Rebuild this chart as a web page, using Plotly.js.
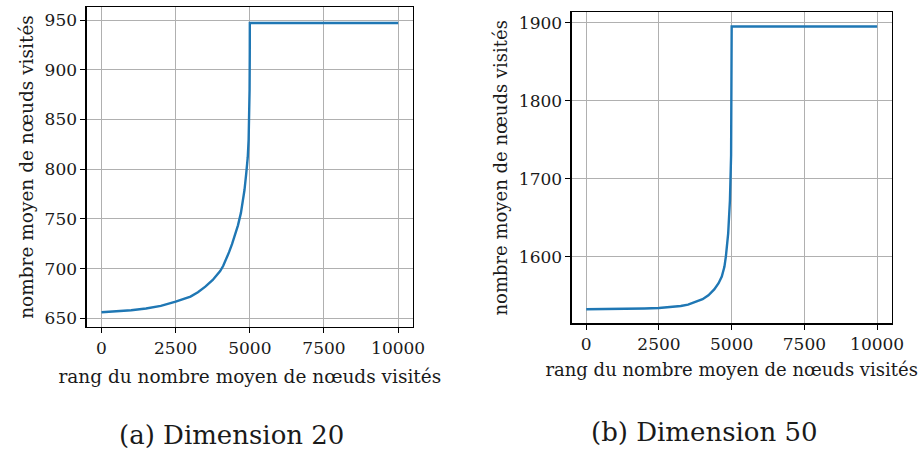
<!DOCTYPE html>
<html><head><meta charset="utf-8">
<script src="https://cdn.plot.ly/plotly-3.0.1.min.js"></script>
<style>html,body{margin:0;padding:0;background:#fff}#c{width:920px;height:452px}</style>
</head><body><div id="c"></div>
<script>
// Dimension 20
const rankA = [0, 500, 1000, 1500, 2000, 2500, 3000, 3250, 3500, 3750, 3900, 4000, 4100, 4200, 4300, 4400, 4500, 4600, 4700, 4750, 4820, 4880, 4930, 4960, 4980, 4992, 4998, 5000, 10000];
const nodesA = [656, 656.8, 658, 659.8, 662.5, 666.7, 671.8, 676.2, 681.8, 688.5, 693.5, 697.5, 702.5, 709, 716.5, 724.5, 733.5, 743.5, 756, 764, 779, 796, 812, 830, 852, 880, 915, 947, 947];
// Dimension 50
const rankB = [0, 500, 1000, 1500, 2000, 2500, 3000, 3250, 3500, 3750, 4000, 4200, 4400, 4550, 4660, 4750, 4800, 4880, 4940, 4980, 4995, 5000, 10000];
const nodesB = [1532.6, 1532.7, 1532.9, 1533.2, 1533.6, 1534.2, 1535.5, 1536.8, 1538.5, 1541.5, 1545.5, 1550.5, 1558, 1566, 1574.5, 1587, 1600, 1630, 1672, 1730, 1800, 1895, 1895];
const xTicks = [0, 2500, 5000, 7500, 10000];
const xTickText = ["0", "2500", "5000", "7500", "10000"];
const yTicksA = [650, 700, 750, 800, 850, 900, 950];
const yTicksB = [1600, 1700, 1800, 1900];
const xTitle = "rang du nombre moyen de nœuds visités";
const yTitle = "nombre moyen de nœuds visités";
const captions = ["(a) Dimension 20", "(b) Dimension 50"];

const F = "DejaVu Serif";
const TC = "#1a1a1a";
const ax = (extra) => Object.assign({
  showline: true, linecolor: "#000", linewidth: 1.2, mirror: true,
  ticks: "outside", ticklen: 5, tickcolor: "#000", tickwidth: 1,
  showgrid: true, gridcolor: "#b0b0b0", gridwidth: 1, zeroline: false,
  tickfont: {family: F, size: 17, color: TC}
}, extra);

const traces = [
  {x: rankA, y: nodesA, type: "scatter", mode: "lines", line: {color: "#1f77b4", width: 2.4}, xaxis: "x", yaxis: "y"},
  {x: rankB, y: nodesB, type: "scatter", mode: "lines", line: {color: "#1f77b4", width: 2.4}, xaxis: "x2", yaxis: "y2"}
];
const layout = {
  width: 920, height: 452, showlegend: false,
  margin: {l: 0, r: 0, t: 0, b: 0},
  paper_bgcolor: "#fff", plot_bgcolor: "#fff",
  font: {family: F, color: TC},
  xaxis: ax({domain: [0.0942, 0.4489], range: [-500, 10500], tickvals: xTicks, ticktext: xTickText, anchor: "y",
    title: {text: xTitle, font: {family: F, size: 18.5, color: TC}, standoff: 13}}),
  yaxis: ax({domain: [0.2765, 0.9845], range: [641.2, 963.1], tickvals: yTicksA, anchor: "x",
    title: {text: yTitle, font: {family: F, size: 18.5, color: TC}, standoff: 6}}),
  xaxis2: ax({domain: [0.6214, 0.9692], range: [-500, 10500], tickvals: xTicks, ticktext: xTickText, anchor: "y2",
    title: {text: xTitle, font: {family: F, size: 18, color: TC}, standoff: 10}}),
  yaxis2: ax({domain: [0.2847, 0.9728], range: [1514.6, 1913.3], tickvals: yTicksB, anchor: "x2",
    title: {text: yTitle, font: {family: F, size: 18, color: TC}, standoff: 6}}),
  annotations: [
    {text: captions[0], xref: "paper", yref: "paper", x: 231/920, y: 1 - 435/452, xanchor: "center", yanchor: "middle", showarrow: false, font: {family: F, size: 26, color: TC}},
    {text: captions[1], xref: "paper", yref: "paper", x: 704/920, y: 1 - 432/452, xanchor: "center", yanchor: "middle", showarrow: false, font: {family: F, size: 26, color: TC}}
  ]
};
Plotly.newPlot("c", traces, layout, {displayModeBar: false, staticPlot: true});
</script></body></html>
